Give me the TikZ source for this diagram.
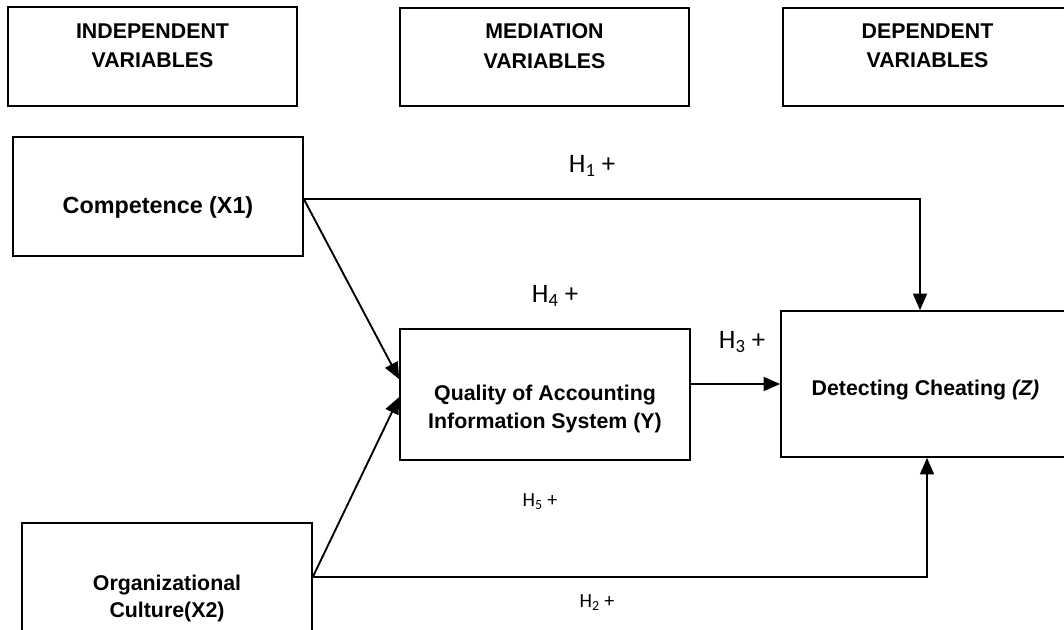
\documentclass[tikz,border=0pt]{standalone}
\usepackage{fontspec}
\setmainfont{Liberation Sans}
\newfontfamily\hlabfont{Carlito}
\usetikzlibrary{arrows.meta}

\tikzset{
  varbox/.style={draw, line width=1.2pt, inner sep=0pt},
  boxtext/.style={font=\fontsize{16}{22}\selectfont\bfseries, align=center, inner sep=0.75pt},
  hyplab/.style={font=\hlabfont\fontsize{20}{24}\selectfont, inner sep=0.75pt},
  hypsmall/.style={font=\hlabfont\fontsize{15}{18}\selectfont, inner sep=0.75pt},
  link/.style={line width=1.4pt, -{Triangle[length=12.5pt,width=10.5pt]}},
}

\begin{document}
\begin{tikzpicture}[x=0.75pt,y=0.75pt,yscale=-1,xscale=1]
\useasboundingbox (0,0) rectangle (1064,629);
\clip (0,0) rectangle (1064,629);
% column headings
\node[varbox, minimum width=216.75pt, minimum height=74.25pt] (indbox) at (152.5,56.5) {};
\node[varbox, minimum width=216.75pt, minimum height=73.5pt] (medbox) at (544.5,57) {};
\node[varbox, minimum width=216.75pt, minimum height=73.5pt] (depbox) at (927.5,57) {};
\node[boxtext] (indtxt) at (152.5,46) {INDEPENDENT\\VARIABLES};
\node[boxtext] (medtxt) at (544.5,46) {MEDIATION\\VARIABLES};
\node[boxtext] (deptxt) at (927.5,46) {DEPENDENT\\VARIABLES};
% variables
\node[varbox, minimum width=217.5pt, minimum height=89.25pt] (comp) at (158,196.5) {};
\node[varbox, minimum width=217.5pt, minimum height=81pt] (org) at (167,577) {};
\node[varbox, minimum width=217.5pt, minimum height=98.25pt] (qual) at (545,394.5) {};
\node[varbox, minimum width=216.75pt, minimum height=109.5pt] (detect) at (925.5,384) {};
\node[boxtext, font=\fontsize{17.5}{22}\selectfont\bfseries] (comptxt) at (158,207) {Competence (X1)};
\node[boxtext, font=\fontsize{16}{20}\selectfont\bfseries] (orgtxt) at (167,598.5) {Organizational\\Culture(X2)};
\node[boxtext, font=\fontsize{16}{21}\selectfont\bfseries] (qualtxt) at (545,409) {Quality of Accounting\\Information System (Y)};
\node[boxtext] (detecttxt) at (925.5,390) {Detecting Cheating \textit{(Z)}};
% paths
\coordinate (hone) at (920,199);
\coordinate (htwo) at (927,577);
\draw[link] (comp.east |- hone) -| (detect.north -| hone);
\draw[link] (org.east) -| (detect.south -| htwo);
\draw[link] (comp.east |- hone) -- (qual.174);
\draw[link] (org.east) -- (qual.181);
\draw[link] (qual.east |- detect.west) -- (detect.west);
% hypotheses
\node[hyplab] (honelab) at (592,166) {H\textsubscript{1} +};
\node[hyplab] (hfourlab) at (555,296) {H\textsubscript{4} +};
\node[hyplab] (hthreelab) at (742,342) {H\textsubscript{3} +};
\node[hypsmall] (hfivelab) at (540,502) {H\textsubscript{5} +};
\node[hypsmall] (htwolab) at (597,603) {H\textsubscript{2} +};
\end{tikzpicture}
\end{document}
